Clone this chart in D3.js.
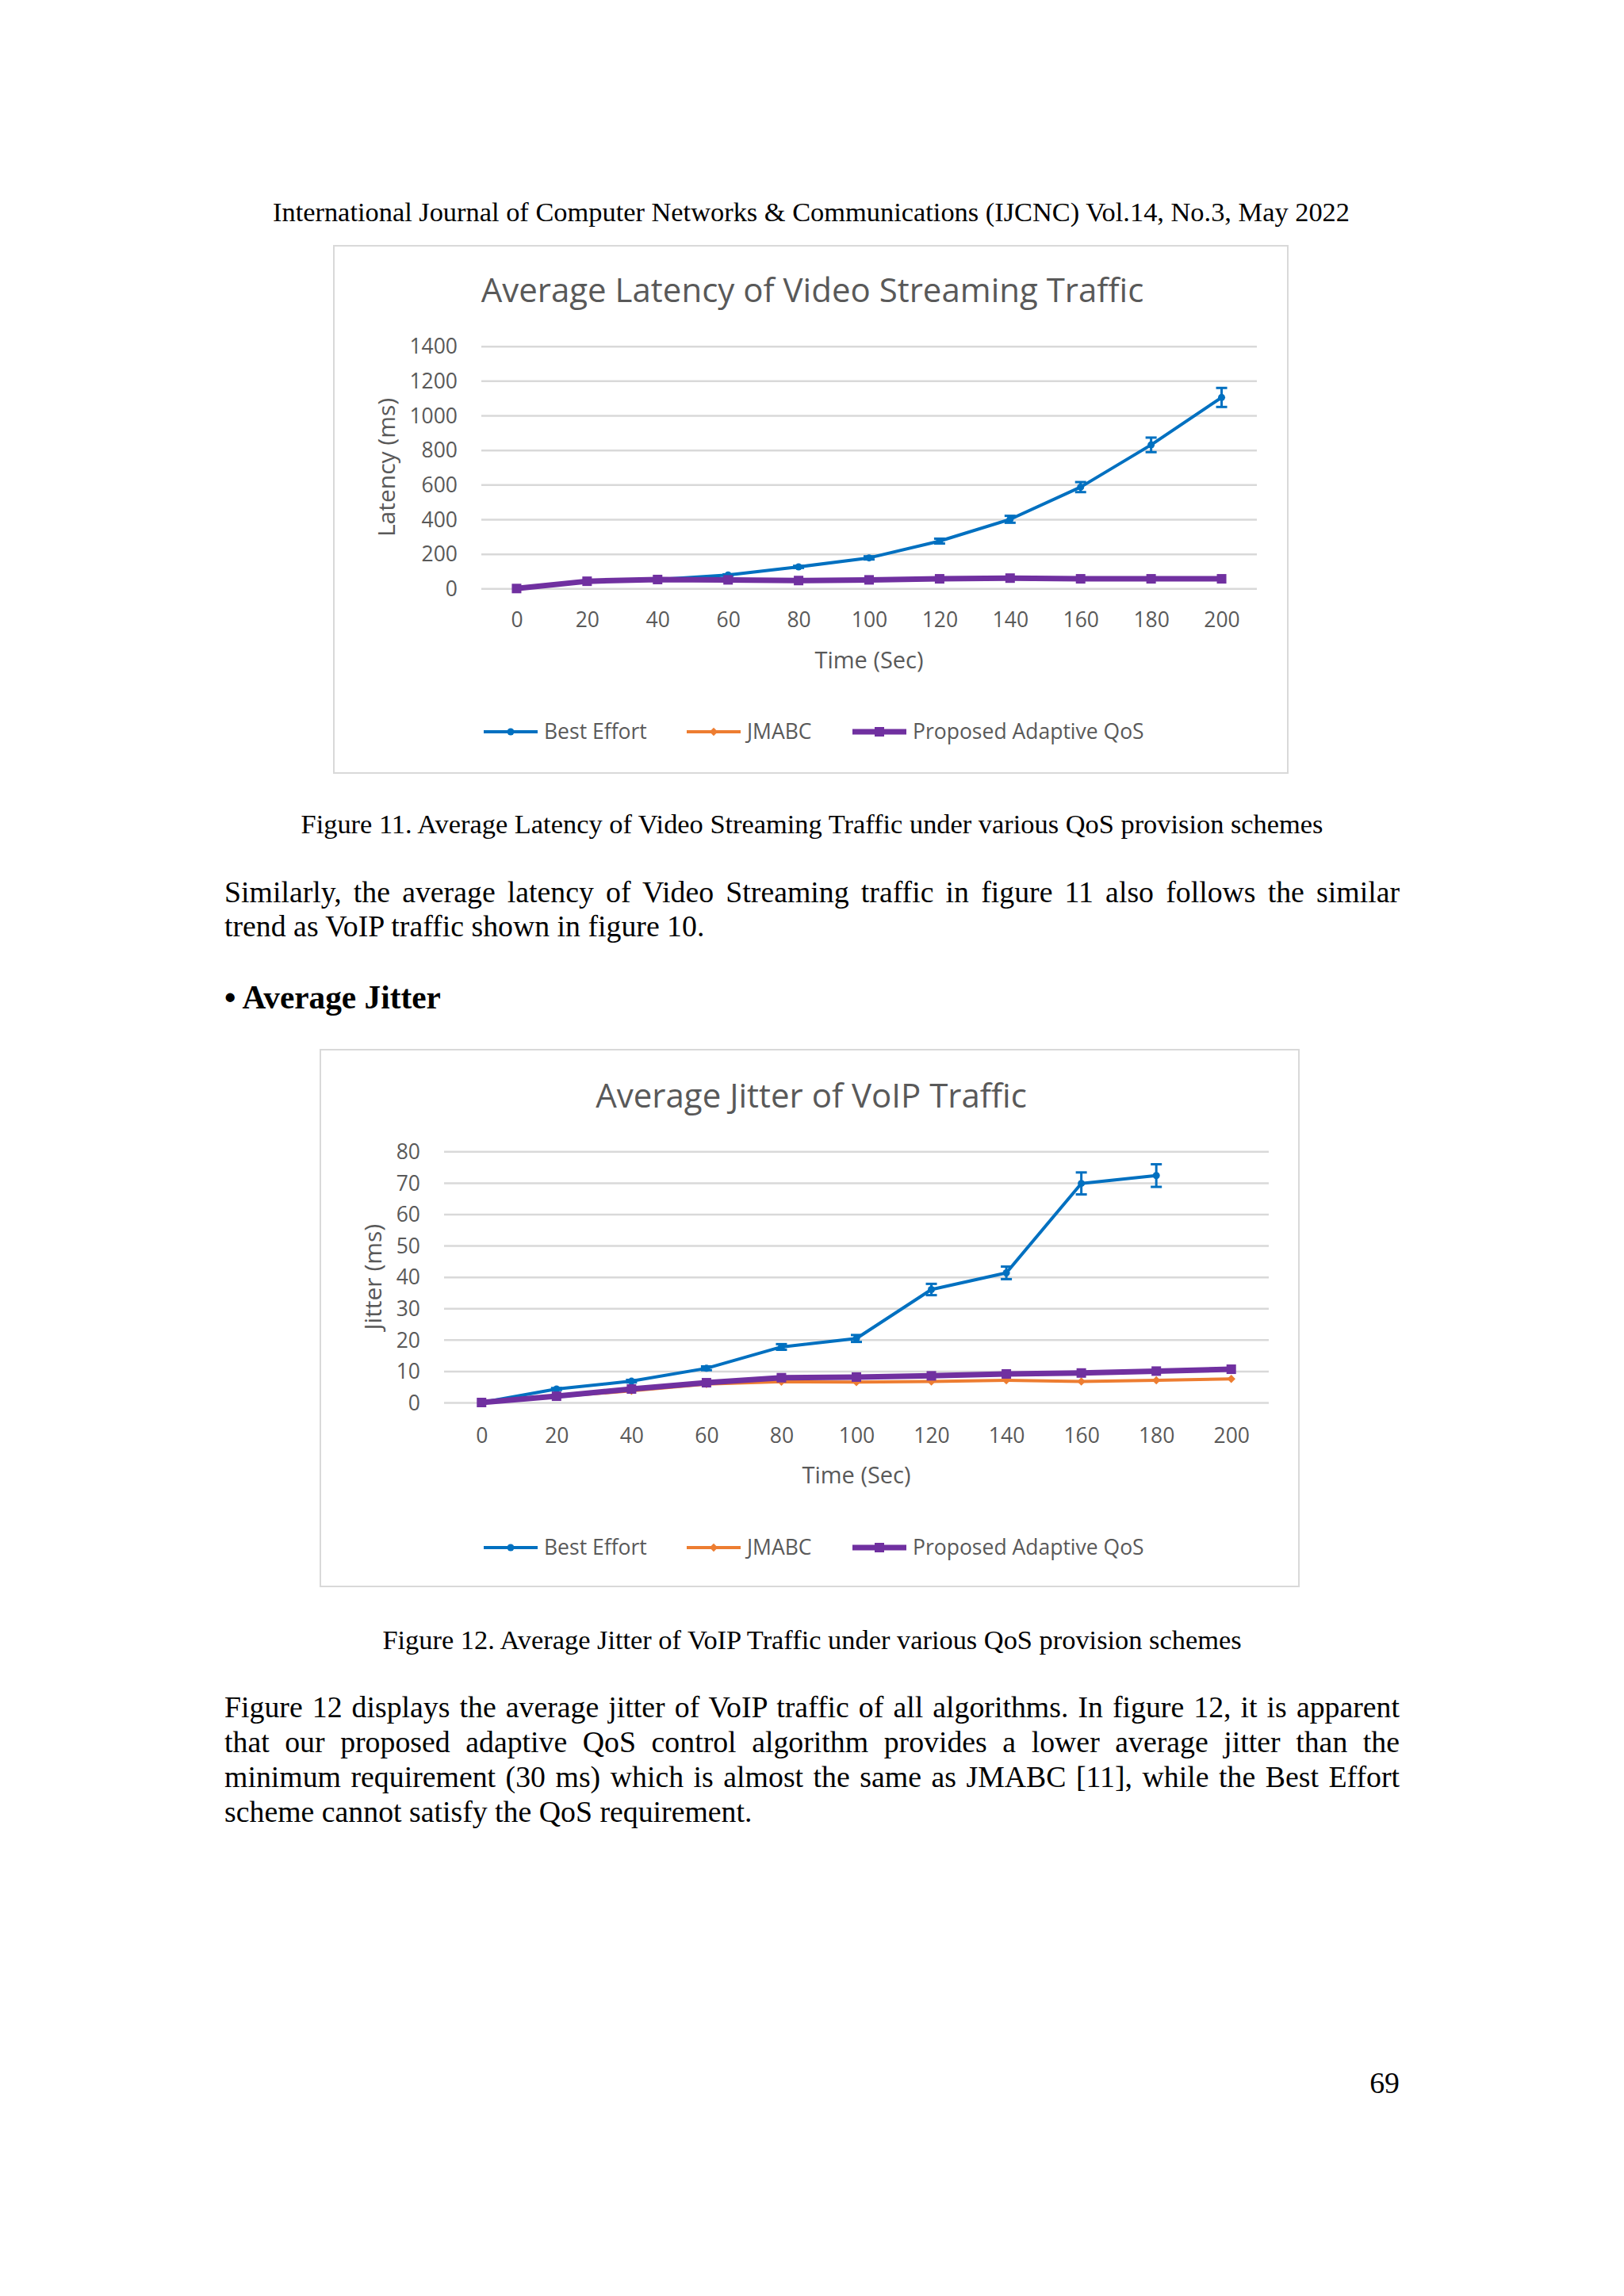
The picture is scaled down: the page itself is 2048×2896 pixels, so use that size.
<!DOCTYPE html>
<html>
<head>
<meta charset="utf-8">
<script src="https://cdn.jsdelivr.net/npm/d3@7"></script>
<style>
  body { margin: 0; background: #ffffff; }
  svg { display: block; }
</style>
</head>
<body>
<div id="page"></div>
<script>
// x categories (time, sec)
var times = [0, 20, 40, 60, 80, 100, 120, 140, 160, 180, 200]

// figure 11 - latency (ms)
var latencyTicks = [0, 200, 400, 600, 800, 1000, 1200, 1400]
var latencyBestEffort = [0, 42, 52, 78, 125, 177, 274, 400, 586, 830, 1104]
var latencyBestEffortErr = [0, 2, 3, 4, 6, 9, 14, 20, 29, 42, 55]
var latencyJMABC = [0, 41, 51, 50, 46, 50, 55, 59, 56, 55, 56]
var latencyProposed = [0, 42, 52, 50, 46, 50, 56, 60, 56, 56, 56]

// figure 12 - jitter (ms)
var jitterTicks = [0, 10, 20, 30, 40, 50, 60, 70, 80]
var jitterBestEffort = [0, 4.3, 6.8, 10.9, 17.7, 20.4, 36.0, 41.3, 69.8, 72.3, null]
var jitterBestEffortErr = [0, 0.3, 0.4, 0.6, 0.9, 1.1, 1.8, 2.0, 3.5, 3.6, null]
var jitterJMABC = [0, 1.9, 3.7, 5.9, 6.6, 6.5, 6.7, 7.1, 6.7, 7.1, 7.5]
var jitterProposed = [0, 2.0, 4.3, 6.3, 7.9, 8.1, 8.5, 9.1, 9.4, 10.0, 10.6]

var seriesNames = ['Best Effort', 'JMABC', 'Proposed Adaptive QoS']
var colors = { best: '#0070c0', jmabc: '#ed7d31', prop: '#7030a0' }

var txtGrey = '#595959'
var chartFont = "'Open Sans', 'Noto Sans', sans-serif"
var serif = "'Liberation Serif', 'DejaVu Serif', serif"

var svg = d3.select('#page').append('svg')
  .attr('width', 2048)
  .attr('height', 2896)

svg.append('rect').attr('width', 2048).attr('height', 2896).attr('fill', '#ffffff')

function drawChart(cfg) {
  var g = svg.append('g')

  // outer frame
  g.append('rect')
    .attr('x', cfg.box[0]).attr('y', cfg.box[1])
    .attr('width', cfg.box[2] - cfg.box[0]).attr('height', cfg.box[3] - cfg.box[1])
    .attr('fill', '#ffffff').attr('stroke', '#d9d9d9').attr('stroke-width', 2)

  g.append('text')
    .attr('x', (cfg.box[0] + cfg.box[2]) / 2 + 2)
    .attr('y', cfg.titleY)
    .attr('text-anchor', 'middle')
    .attr('font-family', chartFont).attr('font-size', 42)
    .attr('fill', txtGrey)
    .text(cfg.title)

  var x = d3.scalePoint()
    .domain(times)
    .range([cfg.left, cfg.right])
    .padding(0.5)

  var y = d3.scaleLinear()
    .domain([0, d3.max(cfg.ticks)])
    .range([cfg.y0, cfg.yTop])

  // gridlines + y labels
  var yAxis = d3.axisLeft(y).tickValues(cfg.ticks).tickFormat(d3.format('d'))
    .tickSize(-(cfg.right - cfg.left)).tickPadding(30)
  var ya = g.append('g')
    .attr('transform', `translate(${cfg.left},0)`)
    .call(yAxis)
  ya.select('.domain').remove()
  ya.selectAll('.tick line').attr('stroke', '#d9d9d9').attr('stroke-width', 2.5)
  ya.selectAll('.tick text')
    .attr('font-family', chartFont).attr('font-size', 26.5)
    .attr('fill', txtGrey).attr('dy', '0.35em')

  // x labels
  var xa = g.append('g')
    .attr('transform', `translate(0,${cfg.y0})`)
    .call(d3.axisBottom(x).tickSize(0).tickPadding(cfg.xLabelGap))
  xa.select('.domain').remove()
  xa.selectAll('.tick text')
    .attr('font-family', chartFont).attr('font-size', 26.5)
    .attr('fill', txtGrey)

  g.append('text')
    .attr('x', (cfg.left + cfg.right) / 2)
    .attr('y', cfg.xTitleY)
    .attr('text-anchor', 'middle')
    .attr('font-family', chartFont).attr('font-size', 29)
    .attr('fill', txtGrey)
    .text('Time (Sec)')

  g.append('text')
    .attr('transform', `translate(${cfg.yTitleX},${(cfg.y0 + cfg.yTop) / 2}) rotate(-90)`)
    .attr('text-anchor', 'middle')
    .attr('dy', '0.35em')
    .attr('font-family', chartFont).attr('font-size', 30)
    .attr('fill', txtGrey)
    .text(cfg.yTitle)

  var line = d3.line()
    .defined(function(d) { return d != null })
    .x(function(d, i) { return x(times[i]) })
    .y(function(d) { return y(d) })

  // best effort with error bars
  g.append('path')
    .attr('d', line(cfg.best))
    .attr('fill', 'none').attr('stroke', colors.best).attr('stroke-width', 4)
    .attr('stroke-linejoin', 'round')

  var eb = g.append('g').attr('stroke', colors.best).attr('stroke-width', 3)
  cfg.best.forEach(function(v, i) {
    if (v == null || !cfg.bestErr[i]) return
    var cx = x(times[i])
    var e = cfg.bestErr[i]
    eb.append('line').attr('x1', cx).attr('x2', cx).attr('y1', y(v - e)).attr('y2', y(v + e))
    eb.append('line').attr('x1', cx - 7).attr('x2', cx + 7).attr('y1', y(v - e)).attr('y2', y(v - e))
    eb.append('line').attr('x1', cx - 7).attr('x2', cx + 7).attr('y1', y(v + e)).attr('y2', y(v + e))
  })
  g.selectAll('.bdot').data(cfg.best.map(function(v, i) { return { v: v, t: times[i] } }).filter(function(d) { return d.v != null }))
    .enter().append('circle')
    .attr('cx', function(d) { return x(d.t) }).attr('cy', function(d) { return y(d.v) })
    .attr('r', 4.5).attr('fill', colors.best)

  // JMABC
  g.append('path')
    .attr('d', line(cfg.jmabc))
    .attr('fill', 'none').attr('stroke', colors.jmabc).attr('stroke-width', 4)
  g.selectAll('.jdot').data(cfg.jmabc)
    .enter().append('path')
    .attr('d', d3.symbol(d3.symbolDiamond2, 70)())
    .attr('transform', function(d, i) { return `translate(${x(times[i])},${y(d)})` })
    .attr('fill', colors.jmabc)

  // proposed
  g.append('path')
    .attr('d', line(cfg.prop))
    .attr('fill', 'none').attr('stroke', colors.prop).attr('stroke-width', 7)
  g.selectAll('.pdot').data(cfg.prop)
    .enter().append('rect')
    .attr('x', function(d, i) { return x(times[i]) - 6 })
    .attr('y', function(d) { return y(d) - 6 })
    .attr('width', 12).attr('height', 12)
    .attr('fill', colors.prop)

  // legend
  var lx = [610, 866, 1075]
  var leg = g.append('g').attr('transform', `translate(0,${cfg.legendY})`)
  seriesNames.forEach(function(name, i) {
    var c = [colors.best, colors.jmabc, colors.prop][i]
    var w = [4, 4, 7][i]
    var mid = lx[i] + 34
    leg.append('line').attr('x1', lx[i]).attr('x2', lx[i] + 68)
      .attr('stroke', c).attr('stroke-width', w)
    if (i == 0) leg.append('circle').attr('cx', mid).attr('r', 4.5).attr('fill', c)
    if (i == 1) leg.append('path').attr('d', d3.symbol(d3.symbolDiamond2, 70)())
      .attr('transform', `translate(${mid},0)`).attr('fill', c)
    if (i == 2) leg.append('rect').attr('x', mid - 6).attr('y', -6)
      .attr('width', 12).attr('height', 12).attr('fill', c)
    leg.append('text')
      .attr('x', lx[i] + 76).attr('dy', '0.35em')
      .attr('font-family', chartFont).attr('font-size', 26.5)
      .attr('fill', txtGrey)
      .text(name)
  })
}

drawChart({
  box: [421, 310, 1624, 975],
  title: 'Average Latency of Video Streaming Traffic',
  titleY: 381,
  left: 607, right: 1585,
  y0: 742.3, yTop: 436.7,
  ticks: latencyTicks,
  xLabelGap: 30, xTitleY: 843, yTitleX: 487,
  yTitle: 'Latency (ms)',
  legendY: 923,
  best: latencyBestEffort, bestErr: latencyBestEffortErr,
  jmabc: latencyJMABC, prop: latencyProposed
})

drawChart({
  box: [404, 1324, 1638, 2001],
  title: 'Average Jitter of VoIP Traffic',
  titleY: 1397,
  left: 560, right: 1600,
  y0: 1769, yTop: 1452.3,
  ticks: jitterTicks,
  xLabelGap: 32, xTitleY: 1871, yTitleX: 470,
  yTitle: 'Jitter (ms)',
  legendY: 1952,
  best: jitterBestEffort, bestErr: jitterBestEffortErr,
  jmabc: jitterJMABC, prop: jitterProposed
})

// page text
function putText(str, x, y, size, anchor, weight) {
  return svg.append('text')
    .attr('x', x).attr('y', y)
    .attr('text-anchor', anchor || 'start')
    .attr('font-family', serif).attr('font-size', size)
    .attr('font-weight', weight || 'normal')
    .attr('fill', '#000000')
    .text(str)
}

// justified line: stretch only the spaces
function justLine(str, y) {
  var t = putText(str, 283, y, 37.8)
  var natural = t.node().getComputedTextLength()
  var gaps = str.split(' ').length - 1
  t.attr('word-spacing', (1482 - natural) / gaps)
}

putText('International Journal of Computer Networks & Communications (IJCNC) Vol.14, No.3, May 2022', 1023, 279, 34.4, 'middle')
putText('Figure 11. Average Latency of Video Streaming Traffic under various QoS provision schemes', 1024, 1051, 34.4, 'middle')
justLine('Similarly, the average latency of Video Streaming traffic in figure 11 also follows the similar', 1138)
putText('trend as VoIP traffic shown in figure 10.', 283, 1181, 37.8)
putText('\u2022 Average Jitter', 283, 1272, 41.3, 'start', 'bold')
putText('Figure 12. Average Jitter of VoIP Traffic under various QoS provision schemes', 1024, 2080, 34.4, 'middle')
justLine('Figure 12 displays the average jitter of VoIP traffic of all algorithms. In figure 12, it is apparent', 2166)
justLine('that our proposed adaptive QoS control algorithm provides a lower average jitter than the', 2210)
justLine('minimum requirement (30 ms) which is almost the same as JMABC [11], while the Best Effort', 2254)
putText('scheme cannot satisfy the QoS requirement.', 283, 2298, 37.8)
putText('69', 1765, 2640, 37.8, 'end')
</script>
</body>
</html>
